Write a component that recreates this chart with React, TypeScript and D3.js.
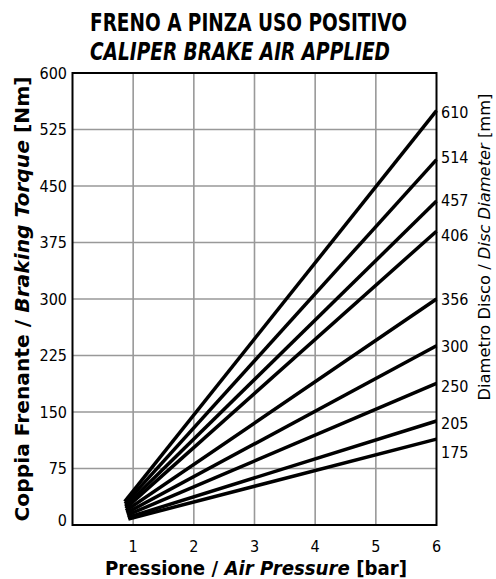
import React from "react";
import * as d3 from "d3";

const pressureTicks = [1, 2, 3, 4, 5, 6];
const torqueTicks = [0, 75, 150, 225, 300, 375, 450, 525, 600];
const discDiameters = [610, 514, 457, 406, 356, 300, 250, 205, 175];
const torqueAt6Bar = [550, 485, 430, 390, 300, 238, 188, 138, 114];
const startPressure = [0.86, 0.865, 0.87, 0.875, 0.88, 0.89, 0.9, 0.91, 0.92];
const startTorque = [31, 28, 25, 22, 19, 16, 13, 10, 8];

const W = 496;
const H = 579;
const FONT = "'DejaVu Sans Condensed', 'DejaVu Sans', sans-serif";

export default function App() {
  const x = d3.scaleLinear().domain([0, 6]).range([72.5, 436.5]);
  const y = d3.scaleLinear().domain([0, 600]).range([525, 73]);
  const line = d3
    .line<[number, number]>()
    .x((d) => x(d[0]))
    .y((d) => y(d[1]));

  const labelNudge: Record<number, number> = { 610: 2, 514: -2, 457: -1, 406: 4, 356: 0, 300: 1, 250: 3, 205: 2, 175: 13 };

  return (
    <svg
      width={W}
      height={H}
      style={{ position: "absolute", left: 0, top: 0, background: "#fff" }}
      fontFamily={FONT}
    >
      {/* Title */}
      <text x={248.5} y={31} textAnchor="middle" fontSize={24} fontWeight="bold" textLength={317} lengthAdjust="spacingAndGlyphs">
        FRENO A PINZA USO POSITIVO
      </text>
      <text x={240} y={60} textAnchor="middle" fontSize={24} fontWeight="bold" fontStyle="italic" textLength={300} lengthAdjust="spacingAndGlyphs">
        CALIPER BRAKE AIR APPLIED
      </text>

      {/* Grid */}
      {pressureTicks.slice(0, -1).map((p) => (
        <line key={"gx" + p} x1={x(p)} x2={x(p)} y1={y(0)} y2={y(600)} stroke="#999" strokeWidth={1.6} />
      ))}
      {torqueTicks.slice(1, -1).map((t) => (
        <line key={"gy" + t} x1={x(0)} x2={x(6)} y1={y(t)} y2={y(t)} stroke="#999" strokeWidth={1.6} />
      ))}

      {/* Curves */}
      {discDiameters.map((d, i) => (
        <path
          key={"l" + d}
          d={line([
            [startPressure[i], startTorque[i]],
            [6, torqueAt6Bar[i]],
          ]) || ""}
          fill="none"
          stroke="#000"
          strokeWidth={3.5}
          strokeLinecap="butt"
        />
      ))}

      {/* Frame */}
      <rect x={x(0)} y={y(600)} width={x(6) - x(0)} height={y(0) - y(600)} fill="none" stroke="#000" strokeWidth={2} />

      {/* Y tick labels */}
      {torqueTicks.map((t) => (
        <text key={"ty" + t} x={67} y={y(t) + (t === 0 ? -5 : 0)} dy="0.36em" textAnchor="end" fontSize={16}>
          {t}
        </text>
      ))}

      {/* X tick labels */}
      {pressureTicks.map((p) => (
        <text key={"tx" + p} x={x(p)} y={552} textAnchor="middle" fontSize={16}>
          {p}
        </text>
      ))}

      {/* Right labels */}
      {discDiameters.map((d, i) => (
        <text key={"r" + d} x={441} y={y(torqueAt6Bar[i]) + labelNudge[d]} dy="0.36em" fontSize={16}>
          {d}
        </text>
      ))}

      {/* X axis title */}
      <text x={256} y={575} textAnchor="middle" fontSize={19} fontWeight="bold" textLength={302} lengthAdjust="spacingAndGlyphs">
        Pressione / <tspan fontStyle="italic">Air Pressure</tspan> [bar]
      </text>

      {/* Y axis title */}
      <text
        transform="translate(29,299) rotate(-90)"
        textAnchor="middle"
        fontSize={19}
        fontWeight="bold"
        textLength={445}
        lengthAdjust="spacingAndGlyphs"
      >
        Coppia Frenante / <tspan fontStyle="italic">Braking Torque</tspan> [Nm]
      </text>

      {/* Right axis title */}
      <text
        transform="translate(490,247) rotate(-90)"
        textAnchor="middle"
        fontSize={16}
        textLength={307}
        lengthAdjust="spacingAndGlyphs"
      >
        Diametro Disco / <tspan fontStyle="italic">Disc Diameter</tspan> [mm]
      </text>
    </svg>
  );
}
